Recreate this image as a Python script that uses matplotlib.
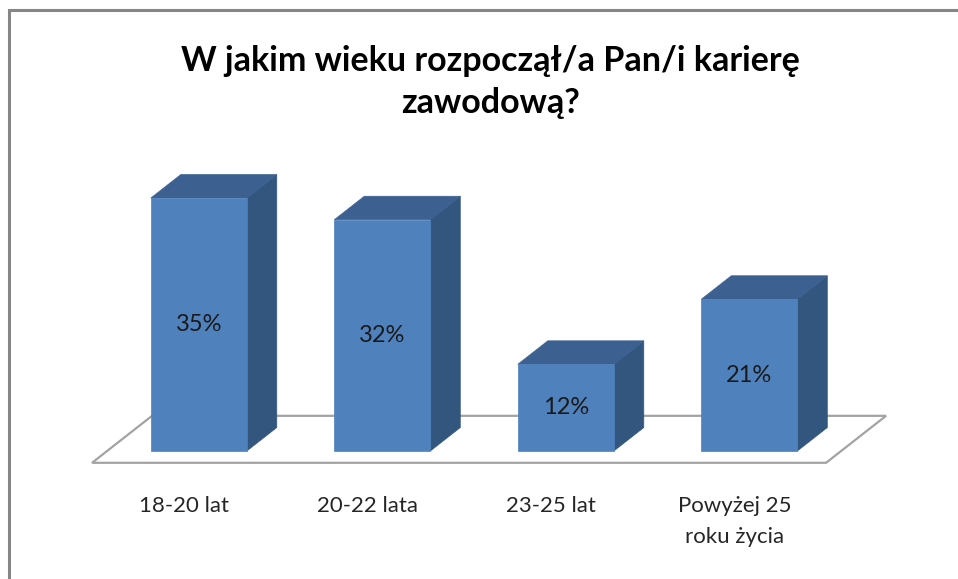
import matplotlib.pyplot as plt
from matplotlib.patches import Polygon, Rectangle

categories = ['18-20 lat', '20-22 lata', '23-25 lat', 'Powyżej 25\nroku życia']
values = [35, 32, 12, 21]
value_labels = ['35%', '32%', '12%', '21%']
title = 'W jakim wieku rozpoczął/a Pan/i karierę\nzawodową?'

plt.rcParams['font.family'] = ['Lato', 'DejaVu Sans']

# depth projection: moving back by depth d shifts the point right and up
depth_dx = 0.327
depth_dy = 6.5
bar_w = 0.523
d_front, d_back = 0.25, 0.75
front_c = '#4f81bd'
top_c = '#3c6191'
side_c = '#33567f'


def proj(x, v, d):
    return (x + d * depth_dx, v + (d - d_front) * depth_dy)


fig = plt.figure(figsize=(9.58, 5.79), dpi=100)
ax = fig.add_axes([0, 0, 1, 1])
ax.set_xlim(-0.5014, 4.719)
ax.set_ylim(-17.7, 62.4)
ax.axis('off')

# chart border
fig.patches.append(Rectangle((9 / 958, -0.05), 1.2, 1 - 10 / 579 + 0.05, transform=fig.transFigure,
                             fill=False, edgecolor='#868686', lw=2.2))

# floor
n = len(categories)
floor = [proj(0, 0, 0), proj(n, 0, 0), proj(n, 0, 1), proj(0, 0, 1)]
ax.add_patch(Polygon(floor, closed=True, facecolor='white', edgecolor='#a3a3a3', lw=1.6, zorder=1))

for i, v in enumerate(values):
    x0 = i + 0.5 - bar_w / 2
    x1 = i + 0.5 + bar_w / 2
    front = [proj(x0, 0, d_front), proj(x1, 0, d_front), proj(x1, v, d_front), proj(x0, v, d_front)]
    top = [proj(x0, v, d_front), proj(x1, v, d_front), proj(x1, v, d_back), proj(x0, v, d_back)]
    side = [proj(x1, 0, d_front), proj(x1, 0, d_back), proj(x1, v, d_back), proj(x1, v, d_front)]
    ax.add_patch(Polygon(side, closed=True, facecolor=side_c, edgecolor=side_c, lw=0.5, zorder=2))
    ax.add_patch(Polygon(top, closed=True, facecolor=top_c, edgecolor=top_c, lw=0.5, zorder=2))
    ax.add_patch(Polygon(front, closed=True, facecolor=front_c, edgecolor=front_c, lw=0.5, zorder=3))
    cx, cy = proj(i + 0.5, v / 2, d_front)
    ax.text(cx, cy, value_labels[i], ha='center', va='center', fontsize=17, color='#1a1a1a', zorder=4)
    fx, fy = proj(i + 0.5, 0, 0)
    ax.annotate(categories[i], (fx, fy), xytext=(0, -24), textcoords='offset points',
                ha='center', va='top', fontsize=16, color='#262626', linespacing=1.65)

fig.text(0.512, 0.858, title, ha='center', va='center', fontsize=24.5, fontweight='bold',
         color='black', linespacing=1.4)

fig.savefig('out.png', dpi=100)
